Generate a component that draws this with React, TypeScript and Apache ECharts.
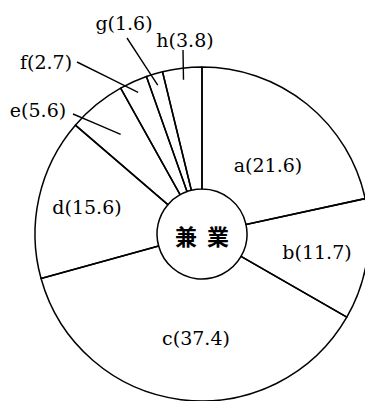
import React, { useEffect, useRef } from 'react';
import * as echarts from 'echarts';

// ---- data ----
const categories = ['a', 'b', 'c', 'd', 'e', 'f', 'g', 'h'];
const values = [21.6, 11.7, 37.4, 15.6, 5.6, 2.7, 1.6, 3.8];
const centerText = ['兼', '業'];

// ---- layout ----
const W = 365;
const H = 401;
const CX = 202;
const CY = 234;
const R_OUT = 167;
const R_IN = 45;
const outside = [false, false, false, false, true, true, true, true];
const labelPos: number[][] = [
  [268, 165], [317, 252], [196, 338], [87, 207],
  [38, 110], [46, 62], [124, 23], [185, 40],
];
const lineStart: (number[] | null)[] = [null, null, null, null, [35, 4], [31, 0], [3, 15], [-2, 10]];
const lineDepth = [0, 0, 0, 0, 0.77, 0.93, 0.93, 0.93];

export default function App() {
  const ref = useRef<HTMLDivElement>(null);
  useEffect(() => {
    const chart = echarts.init(ref.current!, null, { renderer: 'svg' });
    const data = categories.map((name, i) => ({
      name,
      value: values[i],
      label: { position: outside[i] ? 'outside' : 'inside' },
      labelLine: { show: outside[i], length: 10, length2: 0 },
    }));
    chart.setOption({
      animation: false,
      backgroundColor: '#ffffff',
      series: [
        {
          type: 'pie',
          center: [CX, CY],
          radius: [R_IN, R_OUT],
          startAngle: 90,
          clockwise: true,
          avoidLabelOverlap: false,
          silent: true,
          emphasis: { disabled: true },
          itemStyle: { color: 'rgba(255,255,255,0)', borderColor: '#000000', borderWidth: 1.5 },
          label: {
            show: true,
            formatter: '{b}({c})',
            color: '#000000',
            fontFamily: 'DejaVu Serif',
            fontSize: 19,
          },
          labelLine: { lineStyle: { color: '#000000', width: 1.4 } },
          labelLayout: (p: any) => {
            const i = p.dataIndex;
            const [x, y] = labelPos[i];
            const res: any = { x, y, align: 'center', verticalAlign: 'middle' };
            const pts = p.labelLinePoints;
            const ls = lineStart[i];
            if (outside[i] && pts && ls) {
              const k = lineDepth[i];
              const ax = CX + (pts[0][0] - CX) * k;
              const ay = CY + (pts[0][1] - CY) * k;
              const sx = x + ls[0];
              const sy = y + ls[1];
              res.labelLinePoints = [[ax, ay], [(ax + sx) / 2, (ay + sy) / 2], [sx, sy]];
            }
            return res;
          },
          data,
        },
      ],
      graphic: [
        {
          type: 'text',
          x: CX,
          y: CY + 1,
          silent: true,
          style: {
            text: `{p|${centerText[0]}}{q|${centerText[1]}}`,
            align: 'center',
            verticalAlign: 'middle',
            rich: {
              p: { fontFamily: 'Noto Sans CJK JP', fontWeight: 'bold', fontSize: 22, fill: '#000', padding: [0, 10, 0, 0] },
              q: { fontFamily: 'Noto Sans CJK JP', fontWeight: 'bold', fontSize: 22, fill: '#000' },
            },
          },
        },
      ],
    });
    return () => chart.dispose();
  }, []);
  return <div ref={ref} style={{ position: 'fixed', left: 0, top: 0, width: W, height: H }} />;
}
